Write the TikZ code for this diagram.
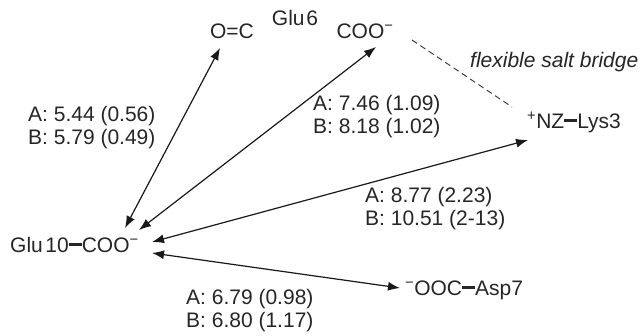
\documentclass[tikz,border=0pt]{standalone}
\usepackage{fontspec}
\setmainfont{Liberation Sans}
\usetikzlibrary{arrows.meta}
\newcommand{\bondline}{\rule[0.3em]{0.62em}{0.13em}}
\begin{document}
\begin{tikzpicture}[x=1pt,y=-1pt,
  lbl/.style={inner sep=0pt, font=\fontsize{21}{23}\selectfont, text=black!85},
  dist/.style={lbl, align=left, anchor=base west},
  link/.style={{Latex[length=12pt,width=9pt]}-{Latex[length=12pt,width=9pt]}, line width=1.2pt, draw=black!90},
  bridge/.style={dash pattern=on 6pt off 4pt, line width=1pt, draw=black!75}]
\useasboundingbox[fill=white] (0,0) rectangle (642,335);
% residues
\node[lbl, anchor=base west] (glu) at (10,252) {Glu\hspace{.12em}10\bondline COO\textsuperscript{−}};
\node[lbl, anchor=base] (oc) at (232,38) {O=C};
\node[lbl, anchor=base] (glu6) at (295,25) {Glu\hspace{.08em}6};
\node[lbl, anchor=base] (coo) at (365,38) {COO\textsuperscript{−}};
\node[lbl, anchor=base west] (nz) at (527,128) {\textsuperscript{+}NZ\bondline Lys3};
\node[lbl, anchor=base west] (asp) at (405,295) {\textsuperscript{−}OOC\bondline Asp7};
\node[lbl, anchor=base west, font=\fontsize{21}{23}\selectfont\itshape] (fsb) at (470,67) {flexible salt bridge};
% distance labels (anchor = baseline of the last line)
\node[dist] (d1) at (28,144) {A: 5.44 (0.56)\\B: 5.79 (0.49)};
\node[dist] (d2) at (313,133) {A: 7.46 (1.09)\\B: 8.18 (1.02)};
\node[dist] (d3) at (365,225) {A: 8.77 (2.23)\\B: 10.51 (2-13)};
\node[dist] (d4) at (186,327) {A: 6.79 (0.98)\\B: 6.80 (1.17)};
% connectors
\draw[link] ([shift={(115,-24)}]glu.base west) -- ([shift={(-12,10)}]oc.base);
\draw[link] ([shift={(129,-22)}]glu.base west) -- ([shift={(11,9)}]coo.base);
\draw[link] ([shift={(142,-10)}]glu.base west) -- ([shift={(1,12)}]nz.base west);
\draw[link] ([shift={(142,1)}]glu.base west) -- ([shift={(-5,-7)}]asp.base west);
\draw[bridge] ([shift={(47,2)}]coo.base) -- ([shift={(-15,-21)}]nz.base west);
\end{tikzpicture}
\end{document}
